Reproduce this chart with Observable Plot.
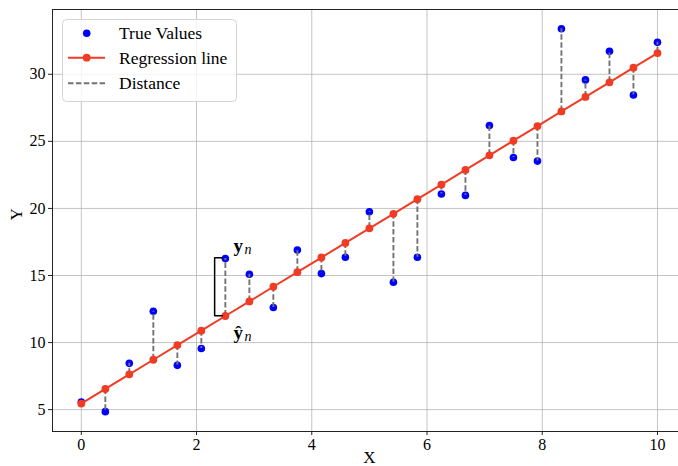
<!DOCTYPE html>
<html><head><meta charset="utf-8">
<script src="https://cdn.jsdelivr.net/npm/d3@7"></script>
<script src="https://cdn.jsdelivr.net/npm/@observablehq/plot@0.6"></script>
<style>
body{margin:0;background:#fff;}
#wrap{position:relative;width:678px;height:466px;overflow:hidden;}
#wrap svg text{font-family:"Liberation Serif","Times New Roman",serif !important;}
#legend{position:absolute;left:62px;top:19px;}
</style></head><body><div id="wrap"></div>
<script>
const xValues = [0, 0.417, 0.833, 1.25, 1.667, 2.083, 2.5, 2.917, 3.333, 3.75, 4.167, 4.583, 5, 5.417, 5.833, 6.25, 6.667, 7.083, 7.5, 7.917, 8.333, 8.75, 9.167, 9.583, 10];
const trueValues = [5.57, 4.85, 8.45, 12.34, 8.30, 9.56, 16.26, 15.09, 12.61, 16.90, 15.14, 16.36, 19.75, 14.50, 16.36, 21.07, 20.97, 26.18, 23.80, 23.53, 33.40, 29.58, 31.71, 28.46, 32.38];
const predValues = [5.45, 6.54, 7.63, 8.72, 9.81, 10.89, 11.98, 13.07, 14.16, 15.25, 16.34, 17.43, 18.52, 19.60, 20.69, 21.78, 22.87, 23.96, 25.05, 26.14, 27.23, 28.31, 29.40, 30.49, 31.58];
const xTicks = [0, 2, 4, 6, 8, 10];
const yTicks = [5, 10, 15, 20, 25, 30];
const legendLabels = ["True Values", "Regression line", "Distance"];
// bracket annotation (data coords) at n = 6
const bracket = [{x: 2.45, y: 16.33}, {x: 2.314, y: 16.33}, {x: 2.314, y: 11.99}, {x: 2.45, y: 11.99}];
const annot = [{x: 2.64, y: 17.2, main: "y"}, {x: 2.64, y: 10.75, main: "ŷ"}];

const data = xValues.map((x, i) => ({x, yt: trueValues[i], yp: predValues[i]}));
const RED = "#f03c24";
const FONT = "Liberation Serif, Times New Roman, serif";
const xDom = [-0.5, 10.365], yDom = [3.37, 34.83];

const plot = Plot.plot({
  width: 678, height: 466,
  marginLeft: 52, marginRight: 0, marginTop: 9, marginBottom: 35,
  style: {fontFamily: FONT, fontSize: "16px", background: "white", color: "#000"},
  x: {domain: xDom},
  y: {domain: yDom},
  marks: [
    Plot.gridX(xTicks, {stroke: "#b0b0b0", strokeOpacity: 0.75, strokeWidth: 1}),
    Plot.gridY(yTicks, {stroke: "#b0b0b0", strokeOpacity: 0.75, strokeWidth: 1}),
    Plot.ruleX([xDom[0]], {stroke: "#222", strokeWidth: 1}),
    Plot.ruleY(yDom, {stroke: "#222", strokeWidth: 1}),
    Plot.axisX(xTicks, {tickSize: 4, tickPadding: 3, label: null, fontSize: 16, stroke: "#222", fontFamily: FONT}),
    Plot.axisY(yTicks, {tickSize: 4, tickPadding: 3, label: null, fontSize: 16, stroke: "#222", fontFamily: FONT}),
    Plot.text(["X"], {x: () => 5, frameAnchor: "bottom", dy: 31, fontSize: 17, fontFamily: FONT}),
    Plot.text(["Y"], {frameAnchor: "left", dx: -36, rotate: -90, fontSize: 17, fontFamily: FONT}),
    Plot.dot(data, {x: "x", y: "yt", r: 3.8, fill: "blue", stroke: "none"}),
    Plot.ruleX(data, {x: "x", y1: "yp", y2: "yt", stroke: "#737373", strokeWidth: 1.9, strokeDasharray: "5.5,2.4"}),
    Plot.line(data, {x: "x", y: "yp", stroke: RED, strokeWidth: 2}),
    Plot.dot(data, {x: "x", y: "yp", r: 3.9, fill: RED, stroke: "none"}),
    Plot.line(bracket, {x: "x", y: "y", stroke: "#000", strokeWidth: 1.5}),
    Plot.text(annot, {x: "x", y: "y", text: "main", fontWeight: "bold", fontSize: 19, textAnchor: "start", fontFamily: FONT}),
    Plot.text(annot, {x: "x", y: "y", text: () => "n", fontStyle: "italic", fontSize: 14, textAnchor: "start", dx: 11, dy: 4, fontFamily: FONT})
  ]
});
const wrap = document.getElementById("wrap");
wrap.appendChild(plot);

// legend
const lg = document.createElement("div");
lg.id = "legend";
const W = 174, H = 82;
const rows = [14.3, 38.7, 64.3];
lg.innerHTML = `<svg width="${W+2}" height="${H+2}" style="display:block;overflow:visible">
<rect x="0.5" y="0.5" width="${W}" height="${H}" rx="4" ry="4" fill="white" fill-opacity="0.8" stroke="#d4d4d4" stroke-width="1"/>
<circle cx="24.7" cy="${rows[0]}" r="3.8" fill="blue"/>
<line x1="6" x2="43" y1="${rows[1]}" y2="${rows[1]}" stroke="${RED}" stroke-width="2"/>
<circle cx="24.7" cy="${rows[1]}" r="3.9" fill="${RED}"/>
<line x1="6" x2="43" y1="${rows[2]}" y2="${rows[2]}" stroke="#737373" stroke-width="1.9" stroke-dasharray="5.5,2.4"/>
${legendLabels.map((t, i) => `<text x="57" y="${rows[i]}" dy="0.35em" font-size="17.5" fill="#000">${t}</text>`).join("")}
</svg>`;
wrap.appendChild(lg);
</script></body></html>
